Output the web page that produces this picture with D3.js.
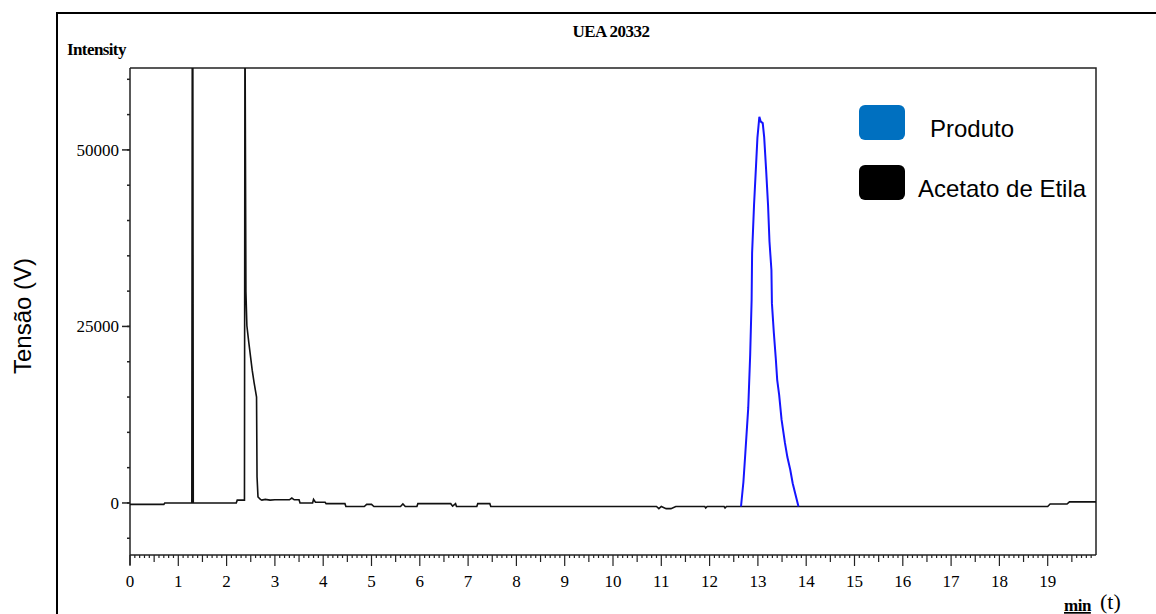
<!DOCTYPE html>
<html>
<head>
<meta charset="utf-8">
<script src="https://cdn.jsdelivr.net/npm/d3@7"></script>
<style>
  body { margin: 0; background: #fff; }
  svg text { fill: #000; }
  .tickLabel { font-family: "Liberation Serif", serif; font-size: 17px; }
  .legendText { font-family: "Liberation Sans", Arial, sans-serif; font-size: 24px; }
</style>
</head>
<body>
<div id="chart"></div>
<script>
// chromatogram traces: time (min) and intensity, one value per time
const acetatoTime = [
  0, 0.7, 0.72, 1.28, 1.29, 1.30, 1.31, 2.2, 2.22, 2.37,
  2.38, 2.40, 2.42, 2.46, 2.53, 2.57, 2.62, 2.63, 2.65, 2.7,
  2.73, 2.8, 2.9, 3.0, 3.3, 3.35, 3.4, 3.5, 3.52, 3.78,
  3.8, 3.84, 4.04, 4.06, 4.45, 4.47, 4.85, 4.9, 5.0, 5.05,
  5.6, 5.65, 5.7, 5.94, 5.96, 6.64, 6.68, 6.74, 6.76, 7.18,
  7.2, 7.45, 7.47, 10.9, 10.95, 11.0, 11.1, 11.2, 11.3, 11.9,
  11.92, 11.95, 12.3, 12.32, 12.35, 19.0, 19.05, 19.4, 19.45, 20
];
const acetatoValue = [
  -200, -200, 0, 0, 70000, 70000, 0, 0, 400, 400,
  70000, 29900, 25100, 22700, 18800, 17000, 15000, 3700, 850, 500,
  400, 500, 400, 450, 450, 700, 450, 450, 0, 0,
  500, 100, 100, -100, -100, -500, -500, -200, -200, -500,
  -500, -150, -500, -500, -100, -100, -450, -100, -500, -500,
  -100, -100, -500, -500, -800, -500, -800, -800, -500, -500,
  -700, -500, -500, -700, -500, -500, -150, -150, 150, 150
];

const produtoTime = [12.65, 12.70, 12.74, 12.80, 12.84, 12.87, 12.88, 12.92, 12.96, 12.99, 13.03, 13.06, 13.10, 13.13, 13.17, 13.21, 13.24, 13.28, 13.29, 13.33, 13.37, 13.40, 13.44, 13.49, 13.56, 13.61, 13.67, 13.72, 13.77, 13.84];
const produtoValue = [-500, 2970, 7080, 13460, 20960, 28750, 35400, 42200, 47600, 51700, 54700, 54000, 53800, 51800, 47200, 42200, 37000, 33000, 28300, 24100, 20500, 17400, 15300, 11800, 8500, 6500, 4700, 2800, 1400, -500];

const yTicks = [0, 25000, 50000];
const xTicks = d3.range(0, 20);
const legendNames = ["Produto", "Acetato de Etila"];
const legendColors = ["#0070C0", "#000000"];

const W = 1156, H = 614;
const plot = {left: 130, right: 1096, top: 68, bottom: 555};

const svg = d3.select("#chart").append("svg")
    .attr("width", W)
    .attr("height", H);

// outer frame (runs off the right and bottom edges)
svg.append("rect")
    .attr("x", 57).attr("y", 13)
    .attr("width", W).attr("height", H)
    .attr("fill", "none")
    .attr("stroke", "#000")
    .attr("stroke-width", 2);

const x = d3.scaleLinear().domain([0, 20]).range([plot.left, plot.right]);
const y = d3.scaleLinear().domain([-7370, 61600]).range([plot.bottom, plot.top]);

// plot box top and right
svg.append("path")
    .attr("d", `M${plot.left},${plot.top}H${plot.right}V${plot.bottom}`)
    .attr("fill", "none")
    .attr("stroke", "#222")
    .attr("stroke-width", 1.5);

// x axis: major, half and tenth ticks
const xAxis = svg.append("g").attr("transform", "translate(0," + plot.bottom + ")");
xAxis.append("line")
    .attr("x1", plot.left).attr("x2", plot.right)
    .attr("stroke", "#222").attr("stroke-width", 1.5);
xAxis.selectAll("line.minor").data(d3.range(0, 200).map(d => d / 10))
    .enter().append("line")
    .attr("class", "minor")
    .attr("x1", d => x(d)).attr("x2", d => x(d))
    .attr("y1", 0)
    .attr("y2", (d, i) => i % 10 === 0 ? 11 : (i % 5 === 0 ? 7 : 3))
    .attr("stroke", "#222").attr("stroke-width", 1.2);
xAxis.selectAll("text").data(xTicks)
    .enter().append("text")
    .attr("class", "tickLabel")
    .attr("x", d => x(d))
    .attr("y", 32)
    .attr("text-anchor", "middle")
    .text(d => d);

// y axis with ticks every 5000
const yAxis = svg.append("g");
yAxis.append("line")
    .attr("x1", plot.left).attr("x2", plot.left)
    .attr("y1", plot.top).attr("y2", plot.bottom + 10)
    .attr("stroke", "#222").attr("stroke-width", 1.5);
yAxis.selectAll("line.tick").data(d3.range(-5000, 61000, 5000))
    .enter().append("line")
    .attr("class", "tick")
    .attr("x1", plot.left - 3).attr("x2", plot.left)
    .attr("y1", d => y(d)).attr("y2", d => y(d))
    .attr("stroke", "#222").attr("stroke-width", 1.5);
yAxis.selectAll("line.major").data(yTicks)
    .enter().append("line")
    .attr("class", "major")
    .attr("x1", plot.left - 8).attr("x2", plot.left)
    .attr("y1", d => y(d)).attr("y2", d => y(d))
    .attr("stroke", "#222").attr("stroke-width", 1.5);
yAxis.selectAll("text").data(yTicks)
    .enter().append("text")
    .attr("class", "tickLabel")
    .attr("x", plot.left - 11)
    .attr("y", d => y(d) + 6)
    .attr("text-anchor", "end")
    .text(d => d);

// titles
svg.append("text")
    .attr("class", "tickLabel")
    .attr("x", 611).attr("y", 37)
    .attr("text-anchor", "middle")
    .style("font-weight", "bold")
    .style("letter-spacing", "-0.5px")
    .text("UEA 20332");

svg.append("text")
    .attr("class", "tickLabel")
    .attr("x", 67).attr("y", 55)
    .style("font-weight", "bold")
    .style("letter-spacing", "-0.6px")
    .text("Intensity");

svg.append("text")
    .attr("transform", "translate(31,316) rotate(-90)")
    .attr("text-anchor", "middle")
    .style("font-family", "Liberation Sans, Arial, sans-serif")
    .style("font-size", "24px")
    .text("Tensão (V)");

svg.append("text")
    .attr("class", "tickLabel")
    .attr("x", 1064).attr("y", 611)
    .style("text-decoration", "underline")
    .style("font-weight", "bold")
    .style("letter-spacing", "-0.5px")
    .text("min");
svg.append("text")
    .attr("x", 1100).attr("y", 609)
    .style("font-family", "Liberation Serif, serif")
    .style("font-size", "22px")
    .text("(t)");

// traces
svg.append("clipPath").attr("id", "plotClip")
  .append("rect")
    .attr("x", plot.left).attr("y", plot.top)
    .attr("width", plot.right - plot.left)
    .attr("height", plot.bottom - plot.top);

const line = d3.line()
    .x(d => x(d[0]))
    .y(d => y(d[1]));

const traces = svg.append("g").attr("clip-path", "url(#plotClip)");

traces.append("path")
    .datum(d3.zip(acetatoTime, acetatoValue))
    .attr("fill", "none")
    .attr("stroke", "#111")
    .attr("stroke-width", 1.6)
    .attr("d", line);

traces.append("path")
    .datum(d3.zip(produtoTime, produtoValue))
    .attr("fill", "none")
    .attr("stroke", "#1515ff")
    .attr("stroke-width", 2)
    .attr("d", line);

// legend
const legend = svg.selectAll("g.legend").data(legendNames)
    .enter().append("g")
    .attr("class", "legend")
    .attr("transform", (d, i) => "translate(859," + (105 + i * 60) + ")");
legend.append("rect")
    .attr("width", 46).attr("height", 35)
    .attr("rx", 6)
    .attr("fill", (d, i) => legendColors[i]);
legend.append("text")
    .attr("class", "legendText")
    .attr("x", (d, i) => i === 0 ? 71 : 59)
    .attr("y", 32)
    .text(d => d);
</script>
</body>
</html>
